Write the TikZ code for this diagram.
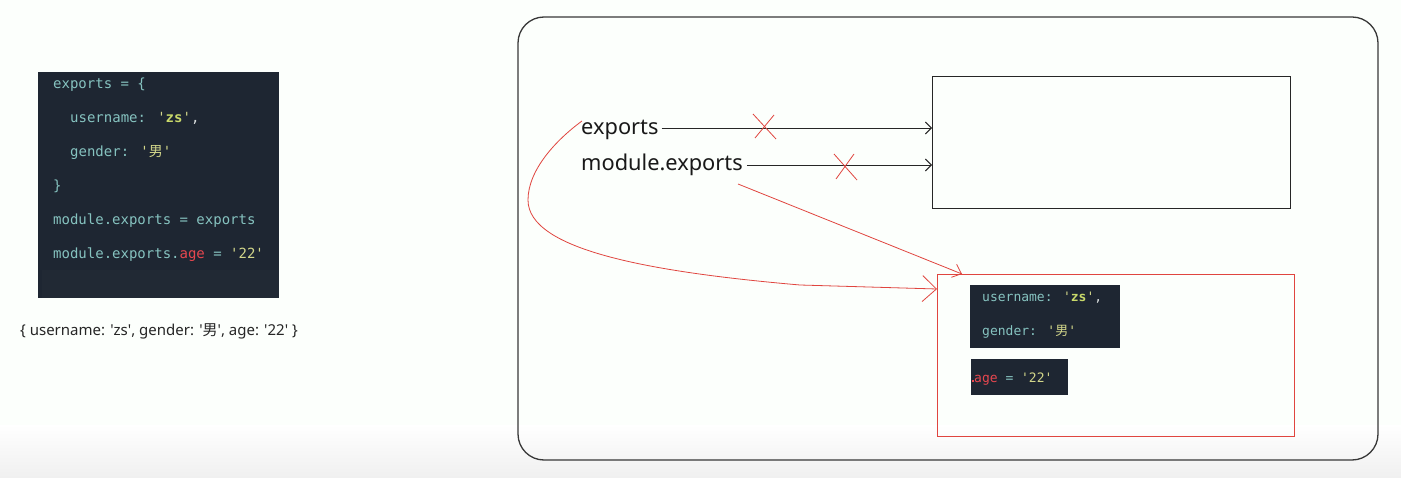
\documentclass[tikz,border=0pt]{standalone}
\usepackage{fontspec}
\setmainfont{Noto Sans}
\newfontfamily\cjk{Noto Sans CJK SC}
\newfontfamily\codefont{DejaVu Sans Mono}
\usetikzlibrary{arrows.meta}
\definecolor{codebg}{HTML}{1E2632}
\definecolor{codebgb}{HTML}{212934}
\definecolor{cteal}{HTML}{86C3C0}
\definecolor{cstr}{HTML}{D2D68A}
\definecolor{czs}{HTML}{C9D96A}
\definecolor{cred}{HTML}{E8474F}
\definecolor{cwhite}{HTML}{D8DCDC}
\definecolor{lred}{HTML}{E0453F}
\definecolor{frame}{HTML}{383838}
\newcommand\kt[1]{\textcolor{cteal}{#1}}
\newcommand\ks[1]{\textcolor{cstr}{#1}}
\newcommand\kz[1]{\textcolor{czs}{\bfseries #1}}
\newcommand\kr[1]{\textcolor{cred}{#1}}
\newcommand\kw[1]{\textcolor{cwhite}{#1}}
\newcommand\nan{{\cjk 男}}
\newcommand\q{\textquotesingle}
\tikzset{
  code/.style={anchor=base west, inner sep=0pt, font=\codefont\fontsize{14}{16}\selectfont},
  codes/.style={anchor=base west, inner sep=0pt, font=\codefont\fontsize{13}{15}\selectfont},
  lbl/.style={anchor=base west, inner sep=0pt, text=black!90, font=\fontsize{21.8}{24}\selectfont},
  blk/.style={draw=black!85, line width=0.9pt, -{Straight Barb[length=6pt,width=12pt]}},
  rl/.style={draw=lred, line width=0.8pt},
  xmark/.style={draw=lred, line width=0.8pt},
}
\begin{document}
\begin{tikzpicture}[x=1pt,y=-1pt]
\useasboundingbox (0,0) rectangle (1401,478);
\fill[white!99!green] (0,0) rectangle (1401,478);
\shade[top color=white, bottom color=black!6] (0,425) rectangle (1401,478);

% left code block
\fill[codebg] (38,72) rectangle (279,298);
\fill[codebgb] (42,270) rectangle (279,298);
\node[code] (l1) at (53,89) {\kt{exports = \{}};
\node[code] (l2) at (70,123) {\kt{username:} \ks{\q}\kz{zs}\ks{\q}\kw{,}};
\node[code] (l3) at (70,157) {\kt{gender:} \ks{\q\nan\q}};
\node[code] (l4) at (53,191) {\kt{\}}};
\node[code] (l5) at (53,225) {\kt{module.exports = exports}};
\node[code] (l6) at (53,259) {\kt{module.exports.}\kr{age} \kt{=} \ks{\q22\q}};

\node[anchor=base west, inner sep=0pt, text=black!85, font=\fontsize{15}{17}\selectfont] (cap) at (20,336)
  {\{ username: \q zs\q, gender: \q\nan\q, age: \q 22\q\ \}};

% big frame
\draw[frame, line width=1.3pt, rounded corners=26pt] (518,17) rectangle (1378,460);

% boxes
\node[draw=black!85, line width=0.9pt, minimum width=358pt, minimum height=132pt, inner sep=0pt, anchor=north west] (bbox) at (932,76) {};
\node[draw=lred, line width=1pt, minimum width=357pt, minimum height=162pt, inner sep=0pt, anchor=north west] (rbox) at (937,274) {};

% inner code boxes
\fill[codebg] (970,285) rectangle (1120,348);
\node[codes] (i1) at (982,302) {\kt{username:} \ks{\q}\kz{zs}\ks{\q}\kw{,}};
\node[codes] (i2) at (982,336) {\kt{gender:} \ks{\q\nan\q}};
\fill[codebg] (971,359) rectangle (1068,395);
\node[codes] (i3) at (974,382) {\kr{age} \kt{=} \ks{\q22\q}};
\fill[cred] (972,380) rectangle (973.5,382);

% labels
\node[lbl] (exp) at (581,135) {exports};
\node[lbl] (mexp) at (581,171) {module.exports};

% black arrows
\draw[blk] ([xshift=3pt]exp.east |- 0,128) -- (bbox.west |- 0,128);
\draw[blk] ([xshift=4pt]mexp.east |- 0,165) -- (bbox.west |- 0,165);

% red crosses
\draw[xmark] (753,114) -- (776,139) (774,115) -- (755,138);
\draw[xmark] (834,154) -- (857,180) (854,154) -- (836,179);

% red arrows
\coordinate (rs) at (738,184);
\draw[rl, -{Straight Barb[length=8pt,width=14pt]}] (rs) -- ([xshift=25pt]rbox.north west);
\draw[rl, -{Straight Barb[length=14pt,width=26pt]}] (582,121) .. controls (556,140) and (528,170) .. (528,200)
   .. controls (528,250) and (650,272) .. (800,285) -- (rbox.west |- 0,289);
\end{tikzpicture}
\end{document}
